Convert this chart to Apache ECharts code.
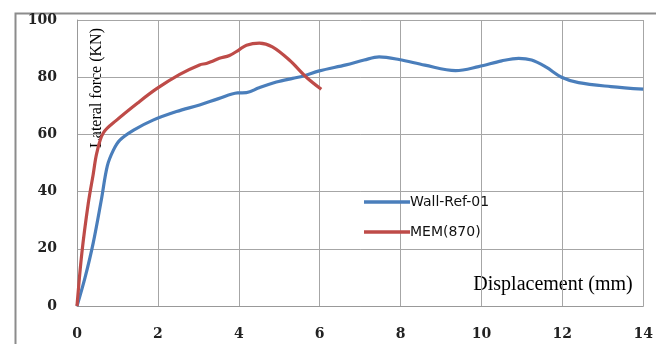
<!DOCTYPE html>
<html><head><meta charset="utf-8">
<script src="https://cdn.jsdelivr.net/npm/echarts@6/dist/echarts.min.js"></script>
<style>html,body{margin:0;padding:0;background:#fff}#c{width:656px;height:344px}</style>
</head><body><div id="c"></div>
<script>
const xTicks = [0, 2, 4, 6, 8, 10, 12, 14];
const yTicks = [0, 20, 40, 60, 80, 100];
const seriesNames = ['Wall-Ref-01', 'MEM(870)'];
const wallX = [0, 0.2, 0.4, 0.6, 0.75, 0.9, 1.06, 1.4, 1.88, 2.46, 3.03, 3.5, 3.97, 4.19, 4.5, 4.93, 5.33, 5.6, 5.99, 6.65, 7.1, 7.47, 7.96, 8.6, 9.36, 9.93, 10.5, 10.92, 11.24, 11.6, 11.98, 12.4, 13.2, 14];
const wallY = [0, 10, 22, 37, 49, 54.5, 58, 61.5, 65, 68, 70.3, 72.5, 74.5, 74.6, 76.3, 78.3, 79.6, 80.4, 82.2, 84.3, 86, 87.1, 86.2, 84.2, 82.3, 83.7, 85.7, 86.6, 86, 83.5, 80, 78.1, 76.7, 75.8];
const memX = [0, 0.12, 0.28, 0.4, 0.49, 0.65, 0.98, 1.5, 1.97, 2.54, 3.03, 3.2, 3.35, 3.52, 3.77, 4.0, 4.19, 4.51, 4.83, 5.25, 5.67, 6.04];
const memY = [0, 18.5, 36, 46, 53.5, 60.5, 65, 71, 76, 81, 84.3, 84.8, 85.6, 86.6, 87.6, 89.5, 91.2, 91.9, 90.6, 86, 80, 75.8];

const pairs = (xs, ys) => xs.map((x, i) => [x, ys[i]]);
const chart = echarts.init(document.getElementById('c'), null, {renderer: 'canvas'});
const gridColor = '#a6a6a6';
chart.setOption({
  animation: false,
  grid: {left: 77, right: 11, top: 20, bottom: 38, containLabel: false},
  xAxis: {
    type: 'value', min: xTicks[0], max: xTicks[xTicks.length - 1], interval: 2,
    axisLine: {show: true, lineStyle: {color: '#999', width: 1}},
    axisTick: {show: false},
    splitLine: {show: true, lineStyle: {color: gridColor, width: 1}},
    axisLabel: {margin: 21, color: '#222', fontFamily: 'DejaVu Serif', fontWeight: 'bold', fontSize: 14}
  },
  yAxis: {
    type: 'value', min: yTicks[0], max: yTicks[yTicks.length - 1], interval: 20,
    axisLine: {show: true, lineStyle: {color: '#999', width: 1}},
    axisTick: {show: false},
    splitLine: {show: true, lineStyle: {color: gridColor, width: 1}},
    axisLabel: {margin: 20, color: '#222', fontFamily: 'DejaVu Serif', fontWeight: 'bold', fontSize: 14}
  },
  legend: {
    orient: 'vertical', left: 359, top: 189, icon: 'rect', itemWidth: 46, itemHeight: 3.5, itemGap: 14,
    textStyle: {fontFamily: 'DejaVu Sans', fontSize: 14, lineHeight: 16, color: '#111', padding: [0, 0, 0, -5]},
    data: seriesNames
  },
  series: [
    {name: seriesNames[0], type: 'line', data: pairs(wallX, wallY), smooth: 0.35, symbol: 'none',
     lineStyle: {color: '#4a7ebb', width: 3.2}, itemStyle: {color: '#4a7ebb'}},
    {name: seriesNames[1], type: 'line', data: pairs(memX, memY), smooth: 0.35, symbol: 'none',
     lineStyle: {color: '#be4b48', width: 3.2}, itemStyle: {color: '#be4b48'}}
  ],
  graphic: [
    {type: 'rect', left: 13, top: 11, shape: {x: 0, y: 0, width: 700, height: 400},
     style: {fill: 'none', stroke: '#8c8c8c', lineWidth: 2}, silent: true},
    {type: 'text', x: 97, y: 88, rotation: Math.PI / 2, silent: true,
     style: {text: 'Lateral force (KN)', font: '16px "Liberation Serif"', fill: '#000', align: 'center', verticalAlign: 'middle'}},
    {type: 'text', x: 553, y: 285, silent: true,
     style: {text: 'Displacement (mm)', font: '20px "Liberation Serif"', fill: '#000', align: 'center', verticalAlign: 'middle'}}
  ]
});
</script></body></html>
